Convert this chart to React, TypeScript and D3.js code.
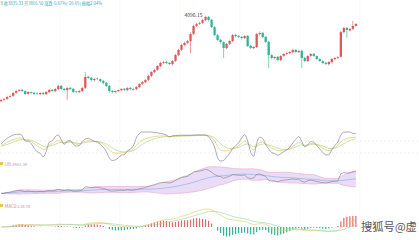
import React from "react";
import * as d3 from "d3";

const opens = [1530,1570,1600,1660,1690,1780,1840,1870,1830,1750,1800,1780,1760,1740,1780,1740,1800,1870,1830,1890,1990,1900,1860,1930,1900,1820,1800,1830,1930,2260,2230,2160,2210,2190,2140,2080,1990,1840,1800,1830,1860,1900,1860,1930,1880,1890,1950,2050,2100,2170,2290,2400,2470,2580,2680,2710,2680,2640,2740,2910,3070,3210,3280,3330,3550,3790,3850,3880,3960,4060,3970,3750,3510,3370,3300,3120,3250,3330,3520,3490,3460,3420,3490,3190,3120,3150,3540,3580,3460,3310,2910,2820,2860,2760,2890,2950,2970,3000,3070,3000,3040,2830,2730,2890,2950,2880,2790,2730,2680,2640,2700,2790,2830,2860,3600,3730,3650,3700,3790];
const highs = [1600,1630,1690,1720,1810,1870,1900,1890,1850,1830,1820,1800,1790,1800,1800,1830,1890,1890,1920,2020,2010,1920,1960,1950,1920,1840,1860,1960,2404,2300,2260,2230,2240,2210,2160,2100,2010,1860,1850,1880,1920,1920,1950,1950,1920,1980,2070,2130,2190,2320,2430,2500,2610,2720,2740,2740,2700,2760,2950,3100,3250,3310,3370,3590,3820,3880,3910,4000,4096,4080,4000,3780,3540,3400,3330,3280,3370,3550,3550,3510,3480,3510,3510,3220,3180,3580,3620,3600,3480,3340,2940,2880,2880,2910,2970,2990,3030,3100,3090,3060,3070,2860,2910,2970,2970,2900,2820,2760,2710,2730,2820,2850,2880,3640,3760,3750,3720,3934,3870];
const lows = [1500,1540,1570,1630,1660,1750,1810,1800,1710,1720,1750,1720,1720,1710,1720,1710,1770,1800,1800,1860,1860,1830,1564,1860,1770,1770,1780,1800,1900,2190,2120,2130,2160,2100,2030,1950,1790,1760,1770,1800,1830,1830,1830,1860,1850,1860,1920,2010,2070,2130,2250,2370,2440,2550,2650,2640,2610,2600,2700,2880,3030,3180,3240,2964,3510,3750,3820,3840,3920,3920,3720,3480,3330,3250,2824,3090,3210,3300,3440,3420,3380,3390,3150,3080,3090,3120,3500,3420,3270,2524,2780,2790,2720,2730,2860,2910,2940,2970,2970,2980,2524,2700,2700,2850,2850,2760,2700,2640,2610,2600,2660,2760,2790,2820,3560,3424,3620,3660,3760];
const closes = [1564,1594,1654,1684,1774,1834,1864,1834,1744,1804,1774,1744,1744,1774,1744,1804,1864,1834,1894,1984,1894,1864,1924,1894,1804,1804,1834,1924,2254,2224,2164,2194,2194,2134,2074,1984,1834,1804,1834,1864,1894,1864,1924,1894,1894,1954,2044,2104,2164,2284,2404,2464,2584,2674,2704,2674,2644,2734,2914,3064,3214,3274,3334,3544,3784,3844,3874,3964,4054,3964,3754,3514,3364,3304,3124,3244,3334,3514,3484,3454,3424,3484,3184,3124,3154,3544,3574,3454,3304,2914,2824,2854,2764,2884,2944,2974,3004,3064,3004,3034,2824,2734,2884,2944,2884,2794,2734,2674,2644,2704,2794,2824,2854,3604,3724,3664,3694,3784,3844];

const peakLabel = "4096.15";
const headerText = "8 收3835.33 开3866.50 涨跌-0.67%(-26.65) 振幅2.04%";
const bollLabel = "UB:2943.39";
const macdLabel = "MACD:138.70";
const watermark = "搜狐号@虚";

const W = 419, H = 240;
const UP = "#e0555a", DOWN = "#2db393";

function ema(arr: number[], n: number) {
  const k = 2 / (n + 1);
  const out: number[] = [];
  arr.forEach((v, i) => out.push(i === 0 ? v : v * k + out[i - 1] * (1 - k)));
  return out;
}
function kdj(n: number) {
  const K: number[] = [], D: number[] = [], J: number[] = [];
  let k = 50, d = 50;
  closes.forEach((c, i) => {
    const s = Math.max(0, i - n + 1);
    const hh = d3.max(highs.slice(s, i + 1))!, ll = d3.min(lows.slice(s, i + 1))!;
    const rsv = hh === ll ? 50 : ((c - ll) / (hh - ll)) * 100;
    k = (2 / 3) * k + rsv / 3;
    d = (2 / 3) * d + k / 3;
    K.push(k); D.push(d); J.push(3 * k - 2 * d);
  });
  return { K, D, J };
}
function boll(arr: number[], n: number) {
  return arr.map((_, i) => {
    const w = arr.slice(Math.max(0, i - n + 1), i + 1);
    const m = d3.mean(w)!;
    const sd = Math.sqrt(d3.mean(w.map((v) => (v - m) * (v - m)))!);
    return { mid: m, up: m + 2 * sd, lo: m - 2 * sd };
  });
}

export default function App() {
  const idx = closes.map((_, i) => i);
  const x = d3.scaleBand<number>().domain(idx).range([0, 357]).paddingInner(0.25);
  const cx = (i: number) => x(i)! + x.bandwidth() / 2;
  const y = d3.scaleLinear().domain([1564, 4564]).range([100, 0]);

  const { K, D, J } = kdj(9);
  const yr = d3.scaleLinear().domain([-10, 110]).range([161, 132]).clamp(true);
  const rline = (a: number[]) => d3.line<number>().x((_, i) => cx(i)).y((v) => yr(v)).curve(d3.curveMonotoneX)(a)!;

  const bb = boll(closes, 20);
  const yb = d3.scaleLinear().domain([1300, 4400]).range([196, 166]);
  const area = d3.area<any>().x((_, i) => cx(i)).y0((d) => yb(d.lo)).y1((d) => yb(d.up)).curve(d3.curveMonotoneX)(bb)!;
  const bl = (k: string) => d3.line<any>().x((_, i) => cx(i)).y((d) => yb(d[k])).curve(d3.curveMonotoneX)(bb)!;

  const e12 = ema(closes, 12), e26 = ema(closes, 26);
  const dif = e12.map((v, i) => v - e26[i]);
  const dea = ema(dif, 9);
  const hist = dif.map((v, i) => 2 * (v - dea[i]));
  const ym = d3.scaleLinear().domain([0, d3.max(dif)!]).range([227, 209]);
  const yh = d3.scaleLinear().domain([0, d3.max(hist, (h) => Math.abs(h))!]).range([227, 216]);
  const mline = (a: number[]) => d3.line<number>().x((_, i) => cx(i)).y((v) => ym(v)).curve(d3.curveMonotoneX)(a)!;

  const peakI = d3.maxIndex(highs);
  const bw = x.bandwidth();

  return (
    <svg width={W} height={H} style={{ position: "absolute", left: 0, top: 0, background: "#fff" }}
      fontFamily="'Noto Sans CJK SC', 'Noto Sans', sans-serif">
      {[60, 120, 180, 240, 300, 360].map((gx) => (
        <line key={gx} x1={gx} x2={gx} y1={0} y2={240} stroke="#f4f4f4" strokeWidth={0.6} />
      ))}
      <text x={0.5} y={5} fontSize={4.2} fill="#3aa9bf">{headerText}</text>
      {idx.map((i) => {
        const o = opens[i], c = closes[i];
        const col = c >= o ? UP : DOWN;
        const top = y(Math.max(o, c)), bot = y(Math.min(o, c));
        return (
          <g key={i}>
            <line x1={cx(i)} x2={cx(i)} y1={y(highs[i])} y2={y(lows[i])} stroke={col} strokeWidth={0.6} />
            <rect x={x(i)} y={top} width={bw} height={Math.max(0.6, bot - top)} fill={col} />
          </g>
        );
      })}
      <text x={cx(peakI) - 3} y={y(highs[peakI]) + 1.5} fontSize={5} textAnchor="end" fill="#444">{peakLabel}</text>

      {[141, 153].map((gy) => (
        <line key={gy} x1={0} x2={W} y1={gy} y2={gy} stroke="#ddd" strokeWidth={0.5} strokeDasharray="2,2" />
      ))}
      <path d={rline(D)} fill="none" stroke="#a8d89a" strokeWidth={0.7} />
      <path d={rline(K)} fill="none" stroke="#e6c65a" strokeWidth={0.7} />
      <path d={rline(J)} fill="none" stroke="#756f96" strokeWidth={0.6} />

      <rect x={0} y={162} width={3} height={3} fill="#e8c84a" />
      <text x={5} y={165.5} fontSize={4.2} fill="#b98fd6">{bollLabel}</text>
      <path d={area} fill="#eadcf6" />
      <path d={bl("up")} fill="none" stroke="#e5a6cf" strokeWidth={0.6} />
      <path d={bl("lo")} fill="none" stroke="#e5a6cf" strokeWidth={0.6} />
      <path d={bl("mid")} fill="none" stroke="#79aee0" strokeWidth={0.6} />
      <path d={d3.line<number>().x((_, i) => cx(i)).y((v) => yb(v))(closes)!} fill="none" stroke="#7b7b8c" strokeWidth={0.6} />

      <rect x={0} y={204} width={3} height={3} fill="#e8c84a" />
      <text x={5} y={207.5} fontSize={4.2} fill="#d08c8c">{macdLabel}</text>
      {hist.map((h, i) => (
        <line key={i} x1={cx(i)} x2={cx(i)} y1={yh(0)} y2={yh(h)} stroke={h >= 0 ? "#e06868" : "#2db393"} strokeWidth={1.2} />
      ))}
      <path d={mline(dif)} fill="none" stroke="#e6c65a" strokeWidth={0.6} />
      <path d={mline(dea)} fill="none" stroke="#8fd4a8" strokeWidth={0.6} />

      <text x={361} y={231} fontSize={11.3} fill="#555" stroke="#fff" strokeWidth={1.5} paintOrder="stroke"
        fontFamily="'Noto Sans CJK SC', sans-serif">{watermark}</text>
    </svg>
  );
}
